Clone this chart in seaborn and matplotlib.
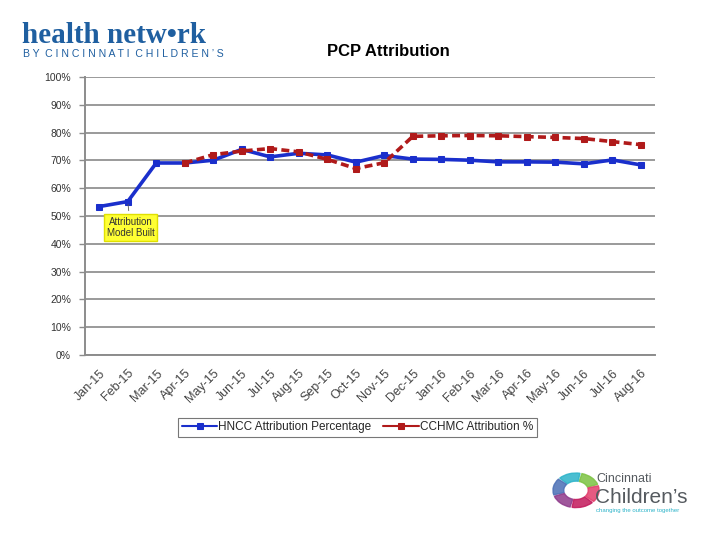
import numpy as np
import pandas as pd
import seaborn as sns
import matplotlib
matplotlib.use("Agg")
import matplotlib.pyplot as plt
from matplotlib.patches import Wedge
from matplotlib.ticker import FixedLocator, PercentFormatter

months = ["Jan-15", "Feb-15", "Mar-15", "Apr-15", "May-15", "Jun-15", "Jul-15",
          "Aug-15", "Sep-15", "Oct-15", "Nov-15", "Dec-15", "Jan-16", "Feb-16",
          "Mar-16", "Apr-16", "May-16", "Jun-16", "Jul-16", "Aug-16"]
hncc = [53.4, 55.2, 69.1, 69.1, 70.1, 74.0, 71.3, 72.6, 72.0, 69.4,
        71.8, 70.5, 70.4, 70.1, 69.5, 69.5, 69.4, 68.8, 70.2, 68.4]
cchmc = [np.nan, np.nan, np.nan, 69.1, 72.1, 73.4, 74.3, 73.1, 70.4, 67.1,
         69.2, 78.7, 78.9, 79.0, 78.9, 78.6, 78.3, 77.9, 76.8, 75.7]

sns.set_style("white")
plt.rcParams['font.family'] = ['Liberation Sans', 'DejaVu Sans']

df = pd.DataFrame({"idx": range(len(months)), "month": months,
                   "HNCC": hncc, "CCHMC": cchmc})

fig = plt.figure(figsize=(7.2, 5.4), dpi=100)
ax = fig.add_axes([0.118, 0.343, 0.792, 0.514])

blue = "#1a2fcc"
red = "#b01a1a"
sns.lineplot(data=df, x="idx", y="HNCC", ax=ax, color=blue, lw=2.6,
             marker="s", markersize=5, markeredgecolor=blue,
             label="HNCC Attribution Percentage")
sns.lineplot(data=df.dropna(), x="idx", y="CCHMC", ax=ax, color=red, lw=2.6,
             marker="s", markersize=4.5, markeredgecolor=red,
             label="CCHMC Attribution %")
ax.lines[-1].set_linestyle((0, (2.2, 1.2)))

ax.set_xlim(-0.5, len(months) - 0.5)
ax.set_ylim(0, 100)
ax.yaxis.set_major_locator(FixedLocator(np.arange(0, 101, 10)))
ax.yaxis.set_major_formatter(PercentFormatter(decimals=0))
ax.grid(axis="y", color="#9a9a9a", lw=1.4)
ax.set_axisbelow(True)
for s in ["top", "right"]:
    ax.spines[s].set_visible(False)
for s in ["left", "bottom"]:
    ax.spines[s].set_color("#8c8c8c")
    ax.spines[s].set_linewidth(1.4)

ax.set_xticks(range(len(months)))
ax.set_xticklabels(months, rotation=45, ha="right", rotation_mode="anchor",
                   fontsize=9, color="#444444")
ax.set_xticks(np.arange(-0.5, len(months), 1), minor=True)
ax.tick_params(axis="x", which="major", length=0, pad=9)
ax.tick_params(axis="x", which="minor", length=4, color="#8c8c8c", width=1)
ax.tick_params(axis="y", length=4, color="#8c8c8c", width=1, labelsize=7.5,
               labelcolor="#333333", pad=6, left=True)
ax.set_xlabel("")
ax.set_ylabel("")

ax.annotate("Attribution\nModel Built", xy=(1, 55.2), xytext=(1.1, 45.8),
            ha="center", va="center", fontsize=7, color="#333333",
            bbox=dict(boxstyle="square,pad=0.3", fc="#ffff33", ec="#e0e000"),
            arrowprops=dict(arrowstyle="-", color="#555555", lw=0.6))

leg = ax.legend(loc="upper center", bbox_to_anchor=(0.478, -0.205), ncol=2,
                frameon=True, fancybox=False, fontsize=8.5, handlelength=3,
                columnspacing=1.0, borderpad=0.3, handletextpad=0.1)
leg.get_frame().set_edgecolor("#555555")
leg.get_frame().set_linewidth(0.8)
for h in leg.legend_handles:
    h.set_linewidth(1.5)
    h.set_linestyle("-")
    h.set_markersize(4.5)

fig.text(0.539, 0.905, "PCP Attribution", ha="center", va="center",
         fontsize=12, fontweight="bold", color="black")

# header logo
fig.text(0.03, 0.935, "health netw\u2022rk", fontsize=21, fontweight="bold",
         family=["Liberation Serif", "DejaVu Serif"], color="#1f5fa0",
         va="center")
fig.text(0.032, 0.9, "B Y  C I N C I N N A T I  C H I L D R E N \u2019 S",
         fontsize=7.6, color="#1f5fa0", va="center")

# footer logo
cols = ["#7cc242", "#2bb3c9", "#4a6fb5", "#8e3a8a", "#c2185b", "#e23d6b"]
for i, c in enumerate(cols):
    fig.patches.append(Wedge((0.8, 0.092), 0.032, 60 * i + 20, 60 * i + 75,
                             width=0.015, transform=fig.transFigure,
                             color=c, alpha=0.85))
fig.text(0.828, 0.113, "Cincinnati", fontsize=9, color="#555a5f", va="center")
fig.text(0.826, 0.079, "Children\u2019s", fontsize=15, color="#555a5f",
         va="center")
fig.text(0.828, 0.054, "changing the outcome together", fontsize=4.3,
         color="#2bb3c9", va="center")

fig.savefig("out.png", dpi=100)
